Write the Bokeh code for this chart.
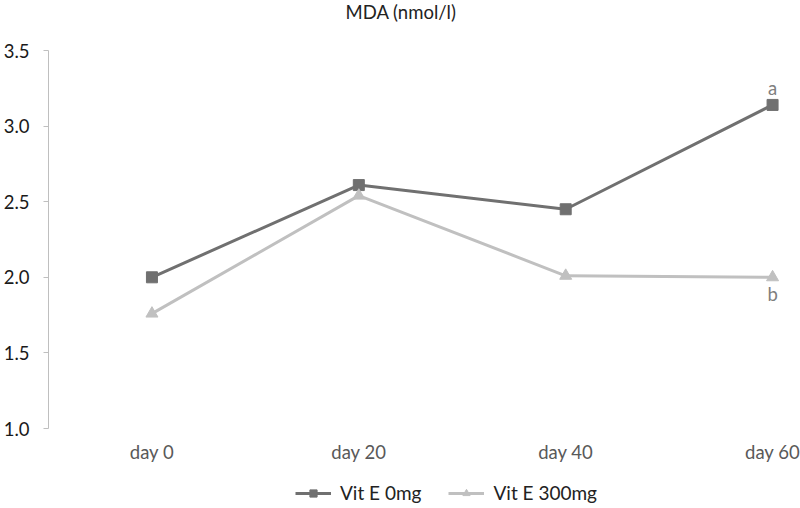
from bokeh.plotting import figure
from bokeh.models import Range1d, FixedTicker, Legend, LegendItem, Label, ColumnDataSource, NumeralTickFormatter
from bokeh.core.properties import value
from bokeh.embed import file_html
from bokeh.resources import INLINE

days = ["day 0", "day 20", "day 40", "day 60"]
vit_e_0 = [2.0, 2.61, 2.45, 3.14]
vit_e_300 = [1.76, 2.54, 2.01, 2.0]
series_names = ["Vit E 0mg", "Vit E 300mg"]
y_ticks = [1.0, 1.5, 2.0, 2.5, 3.0, 3.5]
sig_letters = ["a", "b"]  # at last time point, for each series
title_text = "MDA (nmol/l)"

FONT = "Lato"
DARK = "#707070"
LIGHT = "#c0c0c0"
FS = "18.5px"

W, H = 800, 508
LEFT = 47            # frame left edge (px)
PLOT_TOP, PLOT_BOTTOM = 50, 428   # pixel rows of y=3.5 and y=1.0
ymin_v, ymax_v = y_ticks[0], y_ticks[-1]
ppu = (PLOT_BOTTOM - PLOT_TOP) / (ymax_v - ymin_v)
y0 = ymin_v - (H - PLOT_BOTTOM) / ppu
y1 = ymax_v + PLOT_TOP / ppu
x0, x1 = -0.5, 3.135

xs = list(range(len(days)))

p = figure(width=W, height=H, output_backend="svg", toolbar_location=None,
           x_range=Range1d(x0, x1), y_range=Range1d(y0, y1),
           min_border_left=LEFT, min_border_right=0, min_border_top=0, min_border_bottom=0)
p.title.visible = False
p.outline_line_color = None
p.xgrid.visible = False
p.ygrid.visible = False

# y axis
p.yaxis.ticker = FixedTicker(ticks=y_ticks)
p.yaxis.bounds = (ymin_v, ymax_v)
p.yaxis.formatter = NumeralTickFormatter(format="0.0")
p.yaxis.axis_line_color = "#bfbfbf"
p.yaxis.major_tick_line_color = "#bfbfbf"
p.yaxis.major_tick_out = 5
p.yaxis.major_tick_in = 0
p.yaxis.minor_tick_line_color = None
p.yaxis.major_label_text_font = FONT
p.yaxis.major_label_text_font_size = FS
p.yaxis.major_label_text_color = "#1a1a1a"
p.yaxis.major_label_standoff = 14

# x axis, pinned at y = 1.0
p.xaxis.fixed_location = ymin_v
p.xaxis.ticker = FixedTicker(ticks=xs)
p.xaxis.major_label_overrides = {i: d for i, d in enumerate(days)}
p.xaxis.axis_line_color = None
p.xaxis.major_tick_line_color = None
p.xaxis.minor_tick_line_color = None
p.xaxis.major_label_text_font = FONT
p.xaxis.major_label_text_font_size = FS
p.xaxis.major_label_text_color = "#595959"
p.xaxis.major_label_standoff = 6

l1 = p.line(xs, vit_e_0, line_color=DARK, line_width=3)
m1 = p.scatter(xs, vit_e_0, marker="square", size=11, fill_color=DARK, line_color=DARK)
l2 = p.line(xs, vit_e_300, line_color=LIGHT, line_width=3)
m2 = p.scatter(xs, vit_e_300, marker="triangle", size=12, fill_color=LIGHT, line_color=LIGHT)

# significance letters
src = ColumnDataSource(dict(x=[xs[-1], xs[-1]], y=[vit_e_0[-1], vit_e_300[-1]],
                            t=sig_letters, yo=[-17, 17]))
p.text(x="x", y="y", text="t", y_offset="yo", source=src, text_align="center",
       text_baseline="middle", text_font=value(FONT), text_font_size=FS, text_color="#7f7f7f")

# title (centered on the canvas, near its top)
tx = x0 + (W / 2 - LEFT) / (W - LEFT) * (x1 - x0)
ty = ymax_v + (PLOT_TOP - 11) / ppu
p.add_layout(Label(x=tx, y=ty, text=title_text, text_align="center", text_baseline="middle",
                   text_font=FONT, text_font_size="18.5px", text_color="#222222"))

legend = Legend(items=[LegendItem(label=series_names[0], renderers=[l1, m1]),
                       LegendItem(label=series_names[1], renderers=[l2, m2])],
                orientation="horizontal", location=(247, 4),
                label_text_font=FONT, label_text_font_size="19px", label_text_color="#222222",
                glyph_width=36, glyph_height=18, spacing=27, label_standoff=9,
                border_line_color=None, background_fill_alpha=0, padding=0, margin=0)
p.add_layout(legend)

open("out.html", "w").write(file_html(p, INLINE))
